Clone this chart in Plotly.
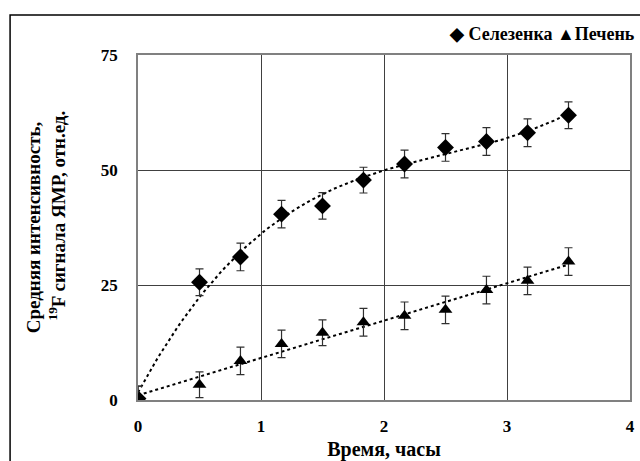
import numpy as np
import plotly.graph_objects as go

# Data (hours, relative units)
time_h = [0, 0.5, 0.833, 1.167, 1.5, 1.833, 2.167, 2.5, 2.833, 3.167, 3.5]
spleen = [0.3, 25.6, 31.1, 40.4, 42.2, 47.8, 51.3, 54.9, 56.2, 58.1, 61.9]
spleen_err = [2.7, 2.9, 3.0, 3.0, 2.9, 2.8, 3.0, 3.0, 3.0, 3.0, 2.9]
liver = [0.3, 3.3, 8.5, 12.2, 14.6, 16.9, 18.3, 19.6, 23.9, 25.9, 30.1]
liver_err = [2.7, 2.8, 3.0, 3.0, 2.8, 3.0, 3.0, 3.0, 3.0, 3.0, 3.0]
x_ticks = [0, 1, 2, 3, 4]
y_ticks = [0, 25, 50, 75]

FONT = "Liberation Serif"

# Trendlines fitted from the data (as a spreadsheet trendline would)
tt = np.linspace(0, max(time_h), 120)
sp_fit = np.polyval(np.polyfit(time_h, spleen, 3), tt)
lv_fit = np.polyval(np.polyfit(time_h, liver, 1), tt)

fig = go.Figure()
fig.add_trace(go.Scatter(x=tt, y=sp_fit, mode="lines", showlegend=False,
                         line=dict(color="black", width=2, dash="dot"), hoverinfo="skip"))
fig.add_trace(go.Scatter(x=tt, y=lv_fit, mode="lines", showlegend=False,
                         line=dict(color="black", width=2, dash="dot"), hoverinfo="skip"))
fig.add_trace(go.Scatter(
    x=time_h, y=spleen, mode="markers", name="Селезенка", showlegend=False,
    marker=dict(symbol="diamond", size=13, color="black"),
    error_y=dict(type="data", array=spleen_err, color="#303030", thickness=1.2, width=4)))
fig.add_trace(go.Scatter(
    x=time_h, y=liver, mode="markers", name="Печень", showlegend=False,
    marker=dict(symbol="triangle-up", size=12, color="black"),
    error_y=dict(type="data", array=liver_err, color="#303030", thickness=1.2, width=4)))

tick_font = dict(family=FONT, size=17, color="black", weight="bold")
xtitle_font = dict(family=FONT, size=20, color="black", weight="bold")
ytitle_font = dict(family=FONT, size=19, color="black", weight="bold")

fig.update_xaxes(range=[0, 4], tickvals=x_ticks, showgrid=True, gridcolor="#404040", gridwidth=1,
                 showline=True, linecolor="#808080", linewidth=1.5, mirror=True,
                 zeroline=False, ticks="", tickfont=tick_font, ticklabelstandoff=10,
                 automargin=False,
                 title=dict(text="Время, часы", font=xtitle_font, standoff=10))
fig.update_yaxes(range=[0, 75], tickvals=y_ticks, showgrid=True, gridcolor="#404040", gridwidth=1,
                 showline=True, linecolor="#808080", linewidth=1.5, mirror=True,
                 zeroline=False, ticks="", tickfont=tick_font, ticklabelstandoff=15,
                 automargin=False,
                 title=dict(text="\u00a0" * 5 + "Средняя интенсивность,<br>" + "\u00a0" * 5
                            + "<sup>19</sup>F сигнала ЯМР, отн.ед.",
                            font=ytitle_font, standoff=30))

fig.add_annotation(xref="paper", yref="paper", x=1.015, y=1.06, xanchor="right", yanchor="middle",
                   text="◆ Селезенка ▲Печень", showarrow=False,
                   font=dict(family=FONT, size=18, color="black", weight="bold"))

# outer chart border (top and left visible)
fig.add_shape(type="rect", xref="paper", yref="paper", x0=-0.26, x1=1.2, y0=-0.3, y1=1.116,
              line=dict(color="black", width=1.5), fillcolor="rgba(0,0,0,0)", layer="above")

fig.update_layout(width=640, height=461, margin=dict(l=138, r=10, t=55, b=61),
                  plot_bgcolor="white", paper_bgcolor="white", showlegend=False,
                  font=dict(family=FONT, color="black"))
fig.write_html("out.html", config={"displayModeBar": False},
               post_script="document.body.style.margin='0';")
